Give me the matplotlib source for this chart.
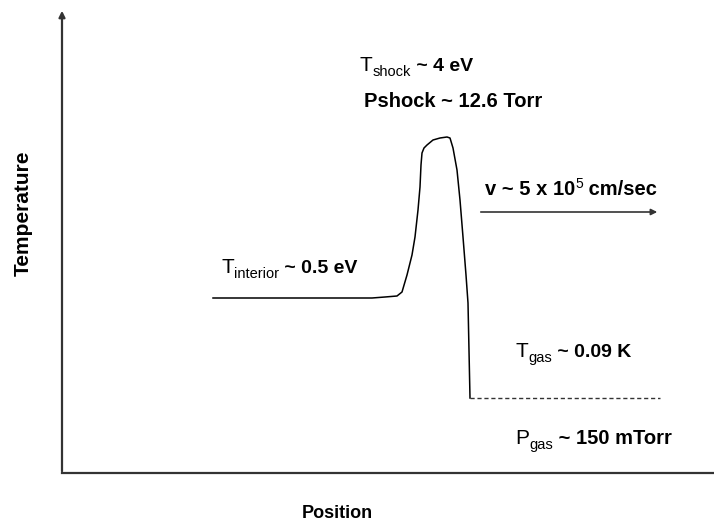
import matplotlib.pyplot as plt
from matplotlib.transforms import offset_copy

plt.rcParams['font.family'] = ['Liberation Sans', 'DejaVu Sans']

# temperature profile (position, temperature) in sketch units, y grows downward
pos = [213, 372, 385, 397, 402, 407, 412, 415, 418, 420, 421, 422, 424, 427, 433, 440, 447, 450,
       453, 457, 460, 463, 466, 468, 470]
temp = [298, 298, 297, 296, 292, 275, 255, 237, 210, 187, 165, 153, 148, 145, 140, 138, 137, 138,
        148, 170, 200, 237, 275, 303, 398]
gas_pos = [470, 660]
gas_temp = [398, 398]

fig = plt.figure(figsize=(7.14, 5.27), dpi=100)
ax = fig.add_axes([0, 0, 1, 1])
ax.set_xlim(0, 714)
ax.set_ylim(527, 0)
ax.axis('off')
renderer = fig.canvas.get_renderer()


def label(x, y, pieces):
    # pieces: (text, size, weight, vertical shift in px); each piece starts where the last one ended
    dx = 0
    for txt, size, weight, shift in pieces:
        tr = offset_copy(ax.transData, fig=fig, x=dx * 72 / fig.dpi, y=-shift * 72 / fig.dpi, units='points')
        t = ax.text(x, y, txt, fontsize=size, fontweight=weight, va='baseline', ha='left', transform=tr)
        dx += t.get_window_extent(renderer).width


# axes, arrow on the vertical one
ax.annotate('', xy=(62, 8), xytext=(62, 474),
            arrowprops=dict(arrowstyle='-|>', color='#333333', lw=1.6, mutation_scale=9))
ax.plot([62, 714], [473, 473], color='#333333', lw=1.6)

ax.plot(pos, temp, color='black', lw=1.1)
ax.plot(gas_pos, gas_temp, color='#333333', lw=1.0, ls=(0, (3, 2)))

# velocity arrow
ax.annotate('', xy=(660, 212), xytext=(478, 212),
            arrowprops=dict(arrowstyle='-|>', color='#333333', lw=1.2, mutation_scale=9))

ax.text(23, 213, 'Temperature', rotation=90, ha='center', va='center', fontsize=15, fontweight='bold')
ax.text(337, 513, 'Position', ha='center', va='center', fontsize=13, fontweight='bold')

label(360, 71, [('T', 15, 'normal', 0), ('shock', 10.5, 'normal', 5), (' ~ 4 eV', 14, 'bold', 0)])
label(364, 107, [('Pshock ~ 12.6 Torr', 14.5, 'bold', 0)])
label(221, 273, [('T', 15, 'normal', 0), ('interior', 10.5, 'normal', 5), (' ~ 0.5 eV', 14, 'bold', 0)])
label(485, 195, [('v ~ 5 x 10', 14.5, 'bold', 0), ('5', 10, 'normal', -7), (' cm/sec', 14.5, 'bold', 0)])
label(516, 357, [('T', 15, 'normal', 0), ('gas', 10.5, 'normal', 5), (' ~ 0.09 K', 14, 'bold', 0)])
label(515, 444, [('P', 15, 'normal', 0), ('gas', 10.5, 'normal', 5), (' ~ 150 mTorr', 14.5, 'bold', 0)])

fig.savefig('out.png', dpi=100)
